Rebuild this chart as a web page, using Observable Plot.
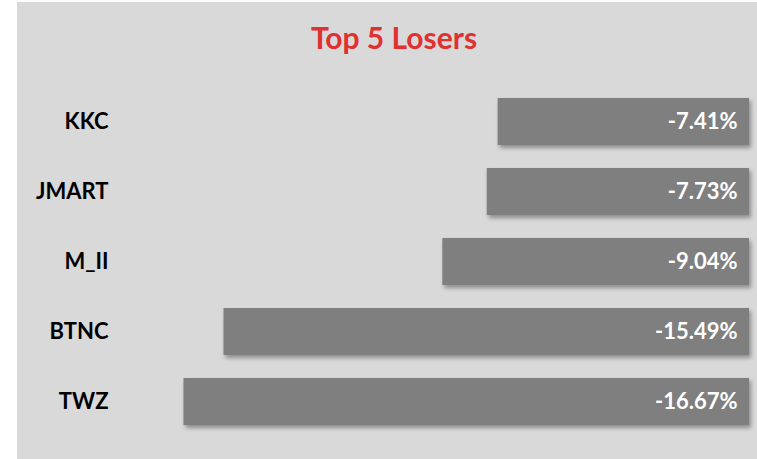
<!DOCTYPE html>
<html>
<head>
<meta charset="utf-8">
<script src="https://cdn.jsdelivr.net/npm/d3@7"></script>
<script src="https://cdn.jsdelivr.net/npm/@observablehq/plot@0.6"></script>
<style>
  html, body { margin: 0; padding: 0; background: #ffffff; }
  #panel {
    position: absolute; left: 17px; top: 2px; width: 740px; height: 457px;
    background: #d9d9d9; overflow: hidden;
  }
  #title {
    font-family: Lato, "Open Sans", sans-serif; font-weight: 700; font-size: 30px;
    color: #e0302f; text-align: center; padding-top: 17px; padding-left: 14px;
    line-height: 36px; height: 36px;
  }
  #chart svg { display: block; }
  #chart g[aria-label="bar"] rect { filter: drop-shadow(2px 3px 2px rgba(0,0,0,0.35)); }
</style>
</head>
<body>
<div id="panel">
  <div id="title">Top 5 Losers</div>
  <div id="chart"></div>
</div>
<script>
const tickers = ["KKC", "JMART", "M_II", "BTNC", "TWZ"];
const changes = [-7.41, -7.73, -9.04, -15.49, -16.67];
const valueLabels = ["-7.41%", "-7.73%", "-9.04%", "-15.49%", "-16.67%"];

const data = tickers.map((t, i) => ({ticker: t, change: changes[i], label: valueLabels[i]}));

const chart = Plot.plot({
  width: 740,
  height: 404,
  marginLeft: 101,
  marginRight: 8,
  marginTop: 18,
  marginBottom: 9,
  style: {background: "transparent", fontFamily: "Lato, 'Open Sans', sans-serif"},
  x: {domain: [-18.6, 0], axis: null},
  y: {domain: tickers, padding: 0.335, label: null},
  marks: [
    Plot.barX(data, {x1: "change", x2: 0, y: "ticker", fill: "#7f7f7f"}),
    Plot.axisY({tickSize: 0, tickPadding: 10, fontSize: 22, fontWeight: "bold", fill: "#000", label: null}),
    Plot.text(data, {x: 0, y: "ticker", text: "label", textAnchor: "end", dx: -12, fill: "#ffffff", fontSize: 22, fontWeight: "bold"})
  ]
});
document.getElementById("chart").appendChild(chart);
</script>
</body>
</html>
